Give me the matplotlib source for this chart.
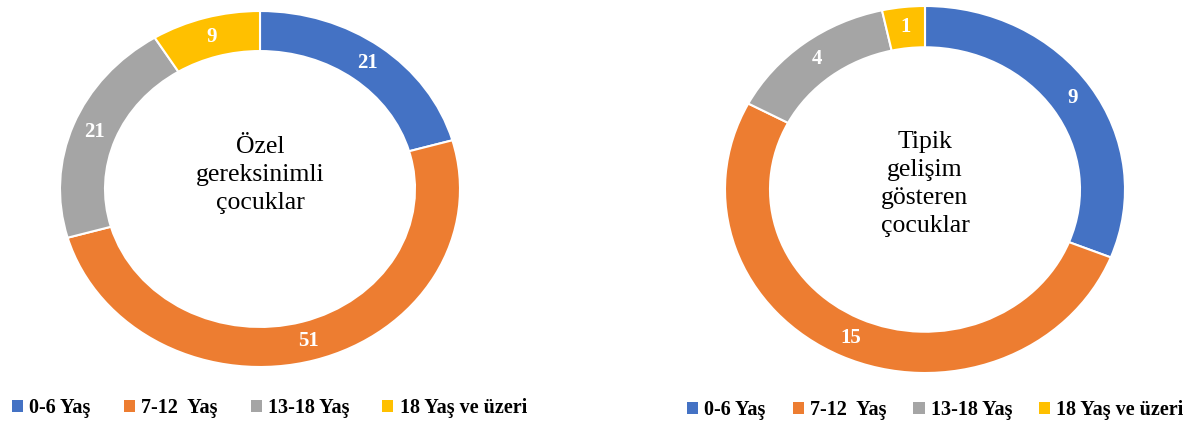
import numpy as np
import matplotlib.pyplot as plt
from matplotlib.patches import Patch

# veri
kategoriler = ['0-6 Yaş', '7-12  Yaş', '13-18 Yaş', '18 Yaş ve üzeri']
ozel = [21, 51, 21, 9]
tipik = [9, 15, 4, 1]
renkler = ['#4472C4', '#ED7D31', '#A5A5A5', '#FFC000']
basliklar = ['Özel\ngereksinimli\nçocuklar', 'Tipik\ngelişim\ngösteren\nçocuklar']

plt.rcParams['font.family'] = ['Liberation Serif', 'DejaVu Serif']

fig = plt.figure(figsize=(11.94, 4.21), dpi=100)
ax1 = fig.add_axes([60/1194, 1-367/421, 400/1194, 356/421])
ax2 = fig.add_axes([725/1194, 1-373/421, 400/1194, 367/421])

def halka(ax, degerler, baslik, ty):
    wedges, _ = ax.pie(degerler, colors=renkler, startangle=90, counterclock=False,
                       radius=1, wedgeprops=dict(width=0.225, edgecolor='white', linewidth=1.5))
    ax.set_aspect('auto')
    ax.set_xlim(-1, 1)
    ax.set_ylim(-1, 1)
    toplam = sum(degerler)
    bas = 90
    for v in degerler:
        orta = np.deg2rad(bas - v/toplam*360/2)
        ax.text(0.89*np.cos(orta), 0.89*np.sin(orta), str(v), color='white',
                fontsize=15, fontweight='bold', ha='center', va='center')
        bas -= v/toplam*360
    ax.text(0, ty, baslik, ha='center', va='center', fontsize=18.5, linespacing=1.35)

halka(ax1, ozel, basliklar[0], 0.08)
halka(ax2, tipik, basliklar[1], 0.03)

handles = [Patch(facecolor=c, edgecolor='none') for c in renkler]
for x, y, sp in [(12/1194, 1-408/421, 1.65), (687/1194, 1-410/421, 1.35)]:
    fig.legend(handles, kategoriler, loc='center left', bbox_to_anchor=(x, y), ncol=4,
               frameon=False, prop=dict(size=14.5, weight='bold'), handlelength=0.55,
               handleheight=0.55, handletextpad=0.3, columnspacing=sp,
               borderpad=0, borderaxespad=0)

fig.savefig('out.png', dpi=100)
